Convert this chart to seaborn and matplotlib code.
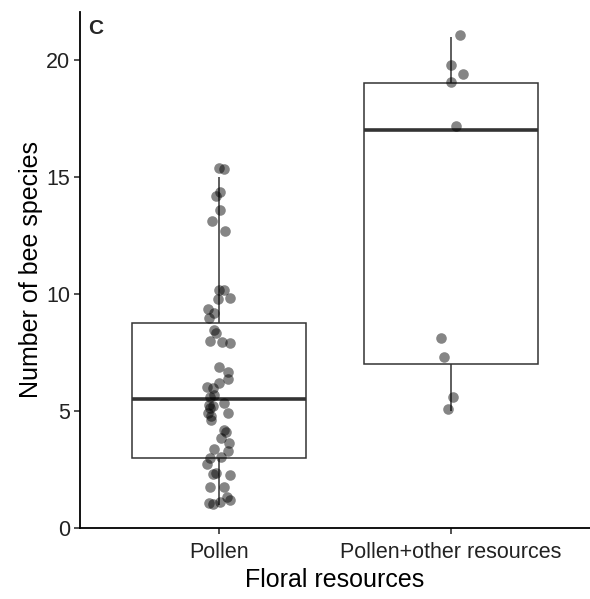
import numpy as np
import pandas as pd
import matplotlib
matplotlib.use("Agg")
import matplotlib.pyplot as plt
import seaborn as sns

sns.set_style("ticks")
plt.rcParams['font.family'] = ['Liberation Sans', 'DejaVu Sans']

categories = ["Pollen", "Pollen+other resources"]

# plotted (jittered) values of number of bee species
pollen_y = [1.03, 1.06, 1.12, 1.20, 1.34,
            1.77, 1.77, 2.26, 2.31, 2.35,
            2.98, 3.30, 3.36, 3.05, 2.75,
            3.62, 3.83, 4.12, 4.19,
            4.62, 4.90, 4.93, 5.12, 5.26, 5.35, 5.20, 4.80,
            5.61, 5.68, 5.97, 6.04, 6.21, 6.35,
            6.65, 6.89,
            7.89, 7.96, 8.00, 8.33, 8.45,
            8.96, 9.19, 9.35, 9.79, 9.82, 10.17, 10.17,
            12.70, 13.10, 13.60, 14.20, 14.37, 15.35, 15.38]
pollen_xoff = [-6, -10, 1, 11, 8,
               -9, 5, 11, -6, -3,
               -9, 9, -5, 2, -12,
               10, 2, 7, 5,
               -8, -11, 9, -9, -10, 5, -6, -8,
               -9, -5, -6, -12, 0, 9,
               9, 0,
               11, 3, -9, -3, -5,
               -10, -5, -11, -1, 11, 0, 5,
               6, -7, 1, -3, 1, 5, 0]

other_y = [21.07, 19.79, 19.40, 19.05, 17.18, 8.11, 7.32, 5.61, 5.07]
other_xoff = [9, 0, 12, 0, 5, -10, -7, 2, -3]

px_per_unit = 233.0

# counts are integers; jitter removed for box statistics
df_box = pd.DataFrame({
    "Floral resources": [categories[0]] * len(pollen_y) + [categories[1]] * len(other_y),
    "Number of bee species": np.round(np.array(pollen_y + other_y)),
})
df_pts = pd.DataFrame({
    "x": [0 + o / px_per_unit for o in pollen_xoff] + [1 + o / px_per_unit for o in other_xoff],
    "y": pollen_y + other_y,
})

fig = plt.figure(figsize=(5.9, 5.99), dpi=100)
ax = fig.add_axes([80 / 590, (599 - 528) / 599, 510 / 590, (528 - 12) / 599])

line_col = "#333333"
sns.boxplot(data=df_box, x="Floral resources", y="Number of bee species",
            order=categories, ax=ax, width=0.75, showcaps=False, showfliers=False,
            whis=1.5, color="white", linecolor=line_col, linewidth=1.1,
            medianprops=dict(linewidth=2.6, color=line_col),
            boxprops=dict(facecolor="white", edgecolor=line_col, zorder=1),
            whiskerprops=dict(color=line_col, zorder=1))

sns.scatterplot(data=df_pts, x="x", y="y", ax=ax, color="black", alpha=0.48,
                s=58, linewidth=0, zorder=3, legend=False)

ax.set_xlim(-0.6, 1.6)
ax.set_ylim(0, 22.05)
ax.set_yticks([0, 5, 10, 15, 20])
ax.set_xticks([0, 1])
ax.set_xticklabels(categories)
ax.tick_params(axis="both", labelsize=15.5, colors="#222222", length=4, width=1.1,
               direction="out")
ax.tick_params(axis="x", pad=6)
ax.tick_params(axis="y", pad=3)
for s in ["top", "right"]:
    ax.spines[s].set_visible(False)
for s in ["left", "bottom"]:
    ax.spines[s].set_linewidth(1.3)
    ax.spines[s].set_color("black")
ax.set_xlabel("Floral resources", fontsize=18, color="black", labelpad=4)
ax.set_ylabel("Number of bee species", fontsize=18, color="black", labelpad=2)

fig.text(88 / 590, 1 - 29 / 599, "C", fontsize=15, fontweight="bold", va="center", ha="left")

fig.savefig("out.png", dpi=100)
